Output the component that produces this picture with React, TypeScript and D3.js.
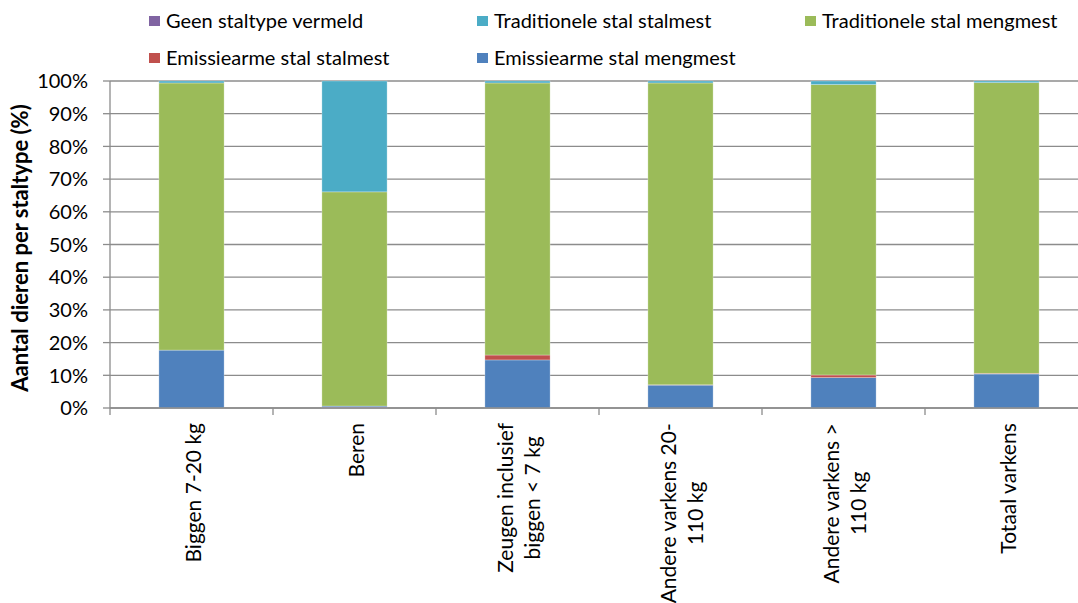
import React from "react";
import * as d3 from "d3";

const categories = [
  ["Biggen 7-20 kg"],
  ["Beren"],
  ["Zeugen inclusief", "biggen < 7 kg"],
  ["Andere varkens 20-", "110 kg"],
  ["Andere varkens >", "110 kg"],
  ["Totaal varkens"],
];
const seriesNames = [
  "Emissiearme stal mengmest",
  "Emissiearme stal stalmest",
  "Traditionele stal mengmest",
  "Traditionele stal stalmest",
  "Geen staltype vermeld",
];
const emissieMeng = [17.7, 0.3, 14.7, 7.0, 9.3, 10.4];
const emissieStal = [0.0, 0.0, 1.5, 0.1, 0.8, 0.2];
const tradMeng = [81.7, 65.5, 83.2, 92.3, 88.8, 88.9];
const tradStal = [0.6, 33.9, 0.6, 0.6, 1.1, 0.5];
const geen = [0.0, 0.3, 0.0, 0.0, 0.0, 0.0];
const yTicks = [0, 10, 20, 30, 40, 50, 60, 70, 80, 90, 100];

const colors: Record<string, string> = {
  "Geen staltype vermeld": "#8064A2",
  "Traditionele stal stalmest": "#4BACC6",
  "Traditionele stal mengmest": "#9BBB59",
  "Emissiearme stal stalmest": "#C0504D",
  "Emissiearme stal mengmest": "#4F81BD",
};

const legendRows = [
  ["Geen staltype vermeld", "Traditionele stal stalmest", "Traditionele stal mengmest"],
  ["Emissiearme stal stalmest", "Emissiearme stal mengmest"],
];

const FONT = "Lato, 'Open Sans', sans-serif";
let ctx: CanvasRenderingContext2D | null = null;
function measure(text: string, size: number): number {
  if (!ctx) ctx = document.createElement("canvas").getContext("2d");
  if (!ctx) return text.length * size * 0.5;
  ctx.font = `${size}px Lato, 'Open Sans', sans-serif`;
  return ctx.measureText(text).width;
}

export default function App() {
  const W = 1078, H = 603;
  const left = 110, right = 1088, top = 81, bottom = 408;
  const labelSize = 21;
  const x = d3.scaleBand<number>().domain(d3.range(categories.length)).range([left, right]).paddingInner(0.6).paddingOuter(0.3);
  const y = d3.scaleLinear().domain([0, 100]).range([bottom, top]);
  const rows = categories.map((_, i) => ({
    "Emissiearme stal mengmest": emissieMeng[i],
    "Emissiearme stal stalmest": emissieStal[i],
    "Traditionele stal mengmest": tradMeng[i],
    "Traditionele stal stalmest": tradStal[i],
    "Geen staltype vermeld": geen[i],
  }));
  const order = ["Geen staltype vermeld", ...seriesNames.filter((s) => s !== "Geen staltype vermeld")];
  const stack = d3.stack<any>().keys(order)(rows as any);
  const step = (right - left) / categories.length;
  const colX = [149, 477, 805];
  return (
    <svg width={W} height={H} style={{ display: "block", position: "absolute", left: 0, top: 0 }} fontFamily={FONT}>
      <rect width={W} height={H} fill="#fff" />
      {yTicks.map((t) => (
        <g key={t}>
          <line x1={left} x2={right} y1={y(t)} y2={y(t)} stroke="#8c8c8c" strokeWidth={1.3} />
          <line x1={left - 7} x2={left} y1={y(t)} y2={y(t)} stroke="#8c8c8c" strokeWidth={1.3} />
          <text x={left - 22} y={y(t)} dy="0.36em" textAnchor="end" fontSize={20} fill="#000">{t}%</text>
        </g>
      ))}
      <line x1={left} x2={left} y1={top} y2={bottom} stroke="#8c8c8c" strokeWidth={1.3} />
      {d3.range(categories.length + 1).map((i) => (
        <line key={i} x1={left + i * step} x2={left + i * step} y1={bottom} y2={bottom + 7} stroke="#8c8c8c" strokeWidth={1.3} />
      ))}
      {stack.map((s) => (
        <g key={s.key} fill={colors[s.key]}>
          {s.map((d, i) =>
            d[1] - d[0] > 0 ? (
              <rect key={i} x={x(i)} width={x.bandwidth()} y={y(d[1])} height={y(d[0]) - y(d[1])} stroke="rgba(255,255,255,0.35)" strokeWidth={0.8} />
            ) : null
          )}
        </g>
      ))}
      <line x1={left} x2={right} y1={bottom} y2={bottom} stroke="#8c8c8c" strokeWidth={1.5} />
      {categories.map((lines, i) => {
        const cx = (x(i) as number) + x.bandwidth() / 2 + 2;
        const n = lines.length;
        const maxW = Math.max(...lines.map((l) => measure(l, labelSize)));
        return (
          <g key={i} transform={`translate(${cx},${bottom + 15}) rotate(-90)`}>
            {lines.map((l, j) => (
              <text key={j} x={-maxW / 2} y={(j - (n - 1) / 2) * 27} dy="0.35em" textAnchor="middle" fontSize={labelSize} fill="#000">
                {l}
              </text>
            ))}
          </g>
        );
      })}
      <text transform={`translate(28,248) rotate(-90)`} textAnchor="middle" fontSize={22} fontWeight="bold" fill="#000">
        Aantal dieren per staltype (%)
      </text>
      {legendRows.map((row, r) =>
        row.map((name, c) => (
          <g key={name} transform={`translate(${colX[c]},${21 + r * 37})`}>
            <rect x={0} y={-5} width={11} height={10} fill={colors[name]} />
            <text x={17} y={0} dy="0.35em" fontSize={20} fill="#000">{name}</text>
          </g>
        ))
      )}
    </svg>
  );
}
